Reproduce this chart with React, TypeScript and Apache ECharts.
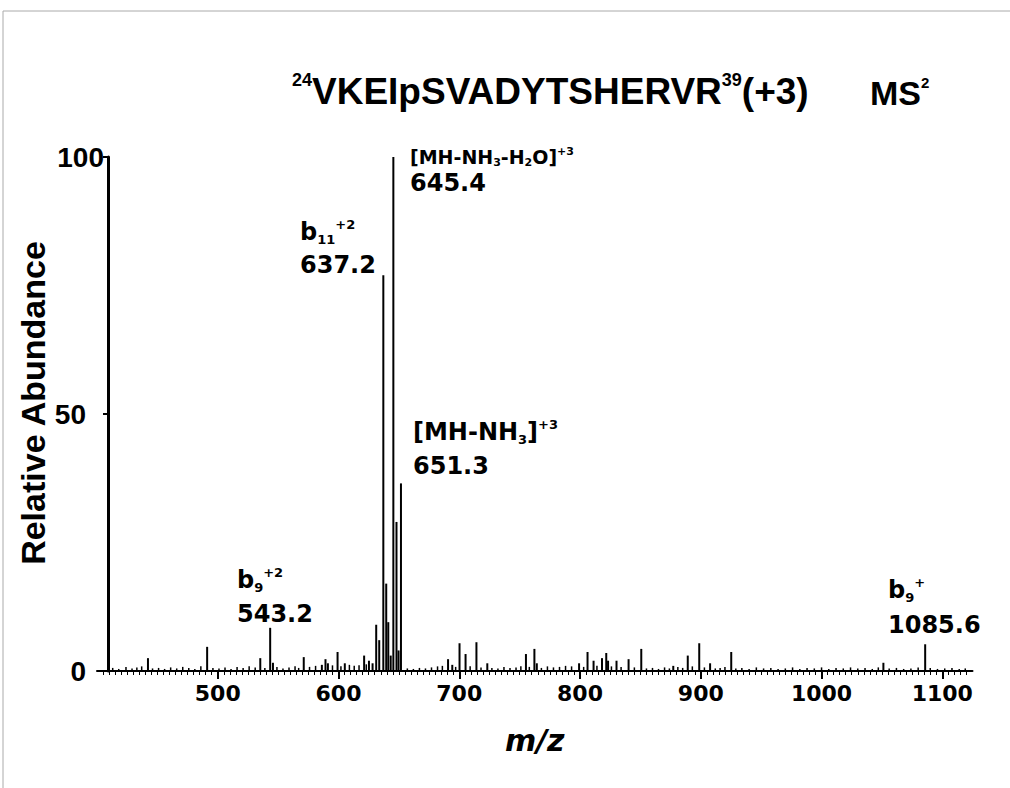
import React, { useEffect, useRef } from "react";
import * as echarts from "echarts";

// ---- data ----
const peakMz = [442, 491, 535, 543.2, 545.5, 571, 586, 589, 591, 599, 605, 621, 625, 628, 631, 633.5, 636.9, 639.3, 641, 643, 645.2, 647.8, 649.5, 651.5, 690.5, 694, 700, 705, 714, 723, 755, 762, 764, 799, 806, 811, 818, 821.5, 823, 830, 840, 850.5, 877, 889, 898.5, 907.5, 925, 1051, 1085.6];
const peakInt = [2.5, 4.7, 2.5, 8.4, 1.6, 2.7, 1.2, 2.3, 1.5, 3.7, 1.5, 3.0, 2.0, 1.5, 9.0, 6.0, 77, 17, 9.5, 3.0, 100, 29, 4.0, 36.5, 2.3, 1.2, 5.4, 3.3, 5.6, 1.5, 3.3, 4.3, 1.5, 1.5, 3.7, 2.0, 2.5, 3.5, 2.0, 2.0, 2.3, 4.3, 1.0, 3.0, 5.4, 1.5, 3.7, 1.6, 5.2];

const noiseMz = [413, 418, 424, 429, 433, 437, 446, 451, 456, 461, 466, 471, 476, 481, 486, 496, 501, 506, 511, 516, 521, 526, 531, 539, 549, 554, 559, 564, 567, 576, 581, 595, 602, 609, 613, 617, 623, 657, 662, 667, 672, 677, 682, 686, 697, 709, 718, 727, 732, 737, 742, 747, 751, 758, 768, 773, 778, 783, 788, 793, 803, 814, 826, 834, 845, 855, 860, 865, 870, 874, 881, 885, 893, 903, 912, 916, 920, 929, 934, 940, 946, 952, 958, 964, 970, 976, 982, 988, 994, 1000, 1006, 1012, 1018, 1024, 1030, 1036, 1042, 1047, 1056, 1062, 1068, 1074, 1080, 1090, 1096, 1102, 1108, 1114, 1119];
const noiseInt = [0.6, 0.4, 0.8, 0.5, 0.7, 0.9, 0.5, 0.6, 0.4, 0.7, 0.5, 0.8, 0.6, 0.4, 0.9, 0.6, 0.5, 0.7, 0.4, 0.8, 0.6, 0.9, 0.7, 0.6, 0.8, 0.5, 0.7, 0.9, 0.6, 0.8, 1.0, 1.1, 0.9, 1.2, 1.0, 1.1, 1.3, 0.5, 0.4, 0.6, 0.5, 0.7, 0.9, 1.0, 0.8, 0.9, 0.7, 0.6, 0.5, 0.8, 0.6, 0.7, 0.9, 0.8, 0.6, 0.9, 0.7, 0.8, 1.0, 0.9, 0.8, 1.0, 0.9, 0.8, 0.7, 0.5, 0.6, 0.4, 0.7, 0.5, 0.8, 0.6, 0.9, 0.7, 0.5, 0.6, 0.8, 0.5, 0.6, 0.4, 0.7, 0.5, 0.6, 0.4, 0.5, 0.7, 0.4, 0.6, 0.5, 0.7, 0.4, 0.6, 0.5, 0.7, 0.5, 0.6, 0.4, 0.7, 0.5, 0.6, 0.4, 0.5, 0.7, 0.6, 0.4, 0.5, 0.6, 0.4, 0.5];

const xTicks = [500, 600, 700, 800, 900, 1000, 1100];
const yTicks = [0, 50, 100];

const annLine1 = [
  "{s|[MH-NH}{ssub|3}{s|-H}{ssub|2}{s|O]}{ssup|+3}",
  "{t|b}{sub|11}{sup|+2}",
  "{t|[MH-NH}{sub|3}{t|]}{sup|+3}",
  "{t|b}{sub|9}{sup|+2}",
  "{t|b}{sub|9}{sup|+}",
];
const annLine2 = ["645.4", "637.2", "651.3", "543.2", "1085.6"];
const annPos = [
  [410, 157, 183],
  [300, 232, 265],
  [413, 432, 466],
  [237, 580, 614],
  [888, 590, 625],
];

const titleText = "{sup|24}{m|VKEIpSVADYTSHERVR}{sup|39}{m|(+3)}";
const msText = "{m|MS}{sup|2}";
const yTitle = "Relative Abundance";
const xTitle = "m/z";

export default function App() {
  const ref = useRef<HTMLDivElement>(null);
  useEffect(() => {
    if (!ref.current) return;
    const chart = echarts.init(ref.current, null, { renderer: "svg" });
    const annFont = "DejaVu Sans";
    const annRich = {
      t: { fontFamily: annFont, fontWeight: "bold", fontSize: 24, lineHeight: 28, fill: "#000" },
      sub: { fontFamily: annFont, fontWeight: "bold", fontSize: 13, lineHeight: 13, verticalAlign: "bottom", fill: "#000" },
      sup: { fontFamily: annFont, fontWeight: "bold", fontSize: 13, lineHeight: 13, verticalAlign: "top", fill: "#000" },
      s: { fontFamily: annFont, fontWeight: "bold", fontSize: 19, lineHeight: 22, fill: "#000" },
      ssub: { fontFamily: annFont, fontWeight: "bold", fontSize: 11, lineHeight: 11, verticalAlign: "bottom", fill: "#000" },
      ssup: { fontFamily: annFont, fontWeight: "bold", fontSize: 11, lineHeight: 11, verticalAlign: "top", fill: "#000" },
    };
    const graphics: any[] = [
      { type: "line", shape: { x1: 3, y1: 11, x2: 1010, y2: 11 }, style: { stroke: "#aaa", lineWidth: 1 } },
      { type: "line", shape: { x1: 3, y1: 11, x2: 3, y2: 788 }, style: { stroke: "#aaa", lineWidth: 1 } },
      {
        type: "text", x: 292, y: 91,
        style: {
          text: titleText, align: "left", verticalAlign: "middle",
          rich: {
            m: { fontFamily: "Liberation Sans", fontWeight: "bold", fontSize: 37, lineHeight: 40, fill: "#000" },
            sup: { fontFamily: "Liberation Sans", fontWeight: "bold", fontSize: 18, lineHeight: 18, verticalAlign: "top", fill: "#000" },
          },
        },
      },
      {
        type: "text", x: 870, y: 93,
        style: {
          text: msText, align: "left", verticalAlign: "middle",
          rich: {
            m: { fontFamily: "Liberation Sans", fontWeight: "bold", fontSize: 34, lineHeight: 36, fill: "#000" },
            sup: { fontFamily: "Liberation Sans", fontWeight: "bold", fontSize: 15, lineHeight: 15, verticalAlign: "top", fill: "#000" },
          },
        },
      },
      {
        type: "text", x: 33, y: 403, rotation: Math.PI / 2,
        style: {
          text: yTitle, align: "center", verticalAlign: "middle",
          fontFamily: "Liberation Sans", fontWeight: "bold", fontSize: 34, fill: "#000",
        },
      },
    ];
    annLine1.forEach((txt, i) => {
      const [x, y1, y2] = annPos[i];
      graphics.push({ type: "text", x, y: y1, style: { text: txt, align: "left", verticalAlign: "middle", rich: annRich } });
      graphics.push({
        type: "text", x, y: y2,
        style: { text: annLine2[i], align: "left", verticalAlign: "middle", fontFamily: annFont, fontWeight: "bold", fontSize: 24, fill: "#000" },
      });
    });

    const option: any = {
      animation: false,
      backgroundColor: "#fff",
      grid: { left: 97, right: 37.5, top: 157, bottom: 117, containLabel: false },
      xAxis: {
        type: "value", min: 400, max: 1125, interval: 100,
        axisLine: { onZero: false, lineStyle: { color: "#000", width: 2 } },
        axisTick: { customValues: xTicks, length: 8, lineStyle: { color: "#000", width: 2 } },
        minorTick: { show: true, splitNumber: 20, length: 4, lineStyle: { color: "#000", width: 1 } },
        splitLine: { show: false },
        axisLabel: {
          customValues: xTicks, color: "#000", fontFamily: "DejaVu Sans", fontWeight: "bold", fontSize: 22, margin: 11,
          formatter: (v: number) => String(v),
        },
        name: xTitle, nameLocation: "middle", nameGap: 54,
        nameTextStyle: { color: "#000", fontFamily: "DejaVu Sans", fontWeight: "bold", fontStyle: "italic", fontSize: 30 },
      },
      yAxis: {
        type: "value", min: 0, max: 100, interval: 50, offset: -11,
        axisLine: { show: true, onZero: false, lineStyle: { color: "#000", width: 3 } },
        axisTick: { show: true, customValues: yTicks, length: 5, lineStyle: { color: "#000", width: 2 } },
        splitLine: { show: false },
        axisLabel: {
          customValues: yTicks, margin: 4,
          formatter: (v: number) => (v === 100 ? `{a|${v}}` : `{b|${v}}`),
          rich: {
            a: { color: "#000", fontFamily: "Liberation Sans", fontWeight: "bold", fontSize: 28 },
            b: { color: "#000", fontFamily: "Liberation Sans", fontWeight: "bold", fontSize: 28, padding: [0, 18, 0, 0] },
          },
        },
      },
      series: [
        {
          type: "bar", barWidth: 2, barGap: "-100%",
          itemStyle: { color: "#000" },
          data: peakMz.map((m, i) => [m, peakInt[i]]),
        },
        {
          type: "bar", barWidth: 1.5, barGap: "-100%",
          itemStyle: { color: "#000" },
          data: noiseMz.map((m, i) => [m, noiseInt[i]]),
        },
      ],
      graphic: graphics,
    };
    chart.setOption(option);
    return () => chart.dispose();
  }, []);
  return <div ref={ref} style={{ position: "fixed", left: 0, top: 0, width: 1010, height: 788, background: "#fff" }} />;
}
